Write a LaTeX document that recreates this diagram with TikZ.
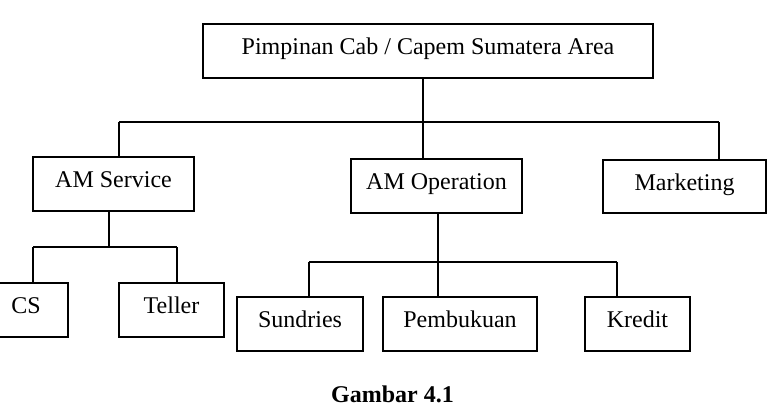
\documentclass[tikz,border=0pt]{standalone}
\usepackage{fontspec}
\setmainfont{Liberation Serif}
\begin{document}
\begin{tikzpicture}[x=1pt,y=-1pt,
  box/.style={draw,line width=1.3pt,inner sep=0pt,text height=12pt,text depth=5pt,
    font=\fontsize{24}{28}\selectfont},
  conn/.style={line width=1.3pt}]
\useasboundingbox (0,0) rectangle (768,410);
% level 0
\node[box,minimum width=450pt,minimum height=54pt] (top) at (428,51) {Pimpinan Cab / Capem Sumatera Area};
% level 1
\node[box,minimum width=161pt,minimum height=54pt] (ams) at (113.5,184) {AM Service};
\node[box,minimum width=171pt,minimum height=54pt] (amo) at (436.5,186) {AM Operation};
\node[box,minimum width=163pt,minimum height=53pt] (mkt) at (684.5,186.5) {Marketing};
% level 2
\node[box,minimum width=84pt,minimum height=54pt] (cs) at (26,310) {CS};
\node[box,minimum width=105pt,minimum height=54pt] (tel) at (171.5,310) {Teller};
\node[box,minimum width=126pt,minimum height=54pt] (sun) at (300,324) {Sundries};
\node[box,minimum width=154pt,minimum height=54pt] (pem) at (460,324) {Pembukuan};
\node[box,minimum width=105pt,minimum height=54pt] (kre) at (637.5,324) {Kredit};
% caption
\node[anchor=base,inner sep=0pt,font=\fontsize{24}{28}\selectfont\bfseries] (cap) at (392.5,402) {Gambar 4.1};
% junctions
\coordinate (j1) at (423,122);
\coordinate (h1L) at (119,122);
\coordinate (h1R) at (719,122);
\coordinate (j2) at (109,247);
\coordinate (h2L) at (33,247);
\coordinate (h2R) at (177,247);
\coordinate (j3) at (438,262);
\coordinate (h3L) at (309,262);
\coordinate (h3R) at (617,262);
% connectors level 0 -> 1
\draw[conn] (top.south -| j1) -- (j1);
\draw[conn] (h1L) -- (h1R);
\draw[conn] (h1L) -- (h1L |- ams.north);
\draw[conn] (j1) -- (j1 |- amo.north);
\draw[conn] (h1R) -- (h1R |- mkt.north);
% AM Service -> CS, Teller
\draw[conn] (ams.south -| j2) -- (j2);
\draw[conn] (h2L) -- (h2R);
\draw[conn] (h2L) -- (h2L |- cs.north);
\draw[conn] (h2R) -- (h2R |- tel.north);
% AM Operation -> Sundries, Pembukuan, Kredit
\draw[conn] (amo.south -| j3) -- (j3);
\draw[conn] (h3L) -- (h3R);
\draw[conn] (h3L) -- (h3L |- sun.north);
\draw[conn] (j3) -- (j3 |- pem.north);
\draw[conn] (h3R) -- (h3R |- kre.north);
\end{tikzpicture}
\end{document}
